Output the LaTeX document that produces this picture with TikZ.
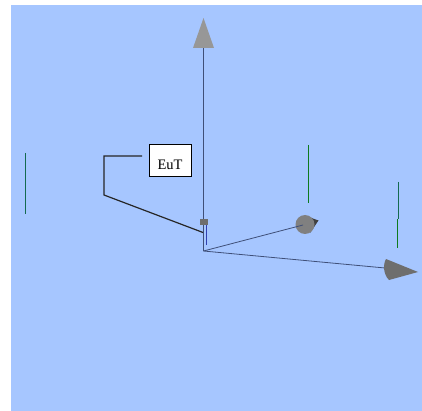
\documentclass[tikz,border=0pt]{standalone}
\usepackage{fontspec}
\setmainfont{Liberation Serif}
\usepackage{tikz}
\usetikzlibrary{positioning}
\definecolor{skyback}{HTML}{A6C6FF}
\definecolor{axisline}{HTML}{3F4F78}
\definecolor{conegrey}{HTML}{6E6E6E}
\definecolor{tipgrey}{HTML}{979797}
\definecolor{ballgrey}{HTML}{808080}
\definecolor{probeteal}{HTML}{146A50}
\definecolor{probegreen}{HTML}{0E7A1E}
\definecolor{probeblue}{HTML}{3040B0}
\tikzset{
    axis/.style={draw=axisline, line width=0.8pt},
    cone/.style={fill=conegrey, draw=none},
    probe/.style={line width=1pt},
    eutbox/.style={rectangle, draw=black, fill=white, line width=1pt, minimum width=42pt, minimum height=32pt, inner sep=0pt, font=\fontsize{14.5}{16}\selectfont}
}

\begin{document}
\begin{tikzpicture}[x=1pt, y=-1pt]
        \useasboundingbox (0,0) rectangle (422,411);
        \fill[skyback] (11,5) rectangle (422,411);

        %Nodes
        \node[eutbox] (eut) at (170,161) {\raisebox{-9pt}[0pt][0pt]{EuT}};
        \coordinate (origin) at (203.5,251);
        \coordinate (ztip) at (203.5,48);
        \coordinate (ytip) at (303,225);
        \coordinate (xtip) at (385,268);
        \coordinate (lead) at (142,156);
        \coordinate (bendA) at (104,156);
        \coordinate (bendB) at (104,195);
        \coordinate (leadend) at (203,232.5);

        %Lines
        \draw[axis] (origin) -- (ztip);
        \draw[axis] (origin) -- (xtip);
        \draw[black!85, line width=1.2pt] (lead) -- (bendA) -- (bendB) -- (leadend);

        %Probes
        \draw[probe, probeblue] (206,224) -- (206,245);
        \draw[probe, probeteal] (25.5,153) -- (25.5,214);
        \draw[probe, probegreen] (308.3,145) -- (308.3,203);
        \draw[probe, probeteal] (398.3,182) -- (398.3,219);
        \draw[probe, probegreen] (397.3,219) -- (397.3,248);

        %Cones
        \fill[tipgrey] (203.5,18) -- (214,48) -- (193,48) -- cycle;
        \fill[conegrey] (199.5,219) rectangle (207.5,225.5);
        \fill[black!75] (306,216) -- (318.5,220.5) -- (310,233) -- cycle;
        \fill[ballgrey] (305,224.5) circle (9.5);
        \draw[axis] (origin) -- (ytip);
        \fill[cone] (386,259) .. controls (383,264) and (383,274) .. (389,280) -- (418,272) -- cycle;
\end{tikzpicture}
\end{document}
